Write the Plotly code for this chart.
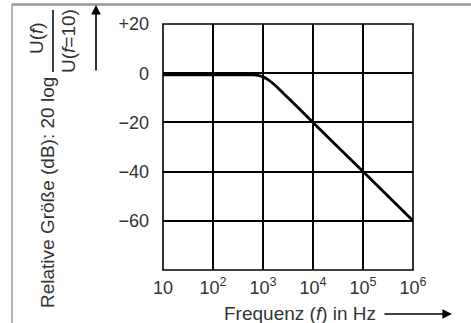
import plotly.graph_objects as go

# Data
freq_hz = [10, 100, 400, 631, 794, 1000, 1259, 1585, 1995, 2512, 3162, 10000, 100000, 1000000]
level_db = [-0.7, -0.7, -0.7, -0.72, -0.85, -1.5, -2.6, -4.2, -6.0, -8.0, -10.0, -20.0, -40.0, -60.0]

x_tickvals = [10, 100, 1000, 10000, 100000, 1000000]
x_ticktext = ["10", "10<sup>2</sup>", "10<sup>3</sup>", "10<sup>4</sup>", "10<sup>5</sup>", "10<sup>6</sup>"]
y_tickvals = [20, 0, -20, -40, -60, -80]
y_ticktext = ["+20", "0", "\u221220", "\u221240", "\u221260", ""]

W, H = 471, 323
L, R, T, B = 163, 413, 24, 270  # plot area in pixels


def px(xp):
    return (xp - L) / (R - L)


def py(yp):
    return (B - yp) / (B - T)


FONT = "Liberation Sans"
TXT = "#333333"
FS_TICK = 18
FS_LAB = 19

fig = go.Figure()
fig.add_trace(go.Scatter(
    x=freq_hz, y=level_db, mode="lines",
    line=dict(color="black", width=2.8, shape="spline", smoothing=0.4),
    hoverinfo="skip", showlegend=False,
))

fig.update_layout(
    width=W, height=H,
    margin=dict(l=L, r=W - R, t=T, b=H - B, pad=0),
    paper_bgcolor="white", plot_bgcolor="white",
    font=dict(family=FONT, size=FS_TICK, color=TXT),
    xaxis=dict(
        type="log", range=[1, 6], tickvals=x_tickvals, ticktext=x_ticktext,
        showgrid=True, gridcolor="black", gridwidth=1.6,
        showline=False, zeroline=False, ticks="", ticklabelstandoff=5,
        tickfont=dict(family=FONT, size=FS_TICK, color=TXT),
    ),
    yaxis=dict(
        range=[-80, 20], tickvals=y_tickvals, ticktext=y_ticktext,
        showgrid=True, gridcolor="black", gridwidth=1.6,
        showline=False, zeroline=False, ticks="", ticklabelstandoff=13,
        tickfont=dict(family=FONT, size=FS_TICK, color=TXT),
    ),
)

shapes = [
    # plot border
    dict(type="rect", xref="paper", yref="paper", x0=0, x1=1, y0=0, y1=1,
         line=dict(color="black", width=1.6)),
    # outer gray frame (top and left)
    dict(type="line", xref="paper", yref="paper", x0=px(12), x1=px(W + 5), y0=py(4.5), y1=py(4.5),
         line=dict(color="#999999", width=2.5)),
    dict(type="line", xref="paper", yref="paper", x0=px(12), x1=px(12), y0=py(4), y1=py(H + 5),
         line=dict(color="#999999", width=1.5)),
    # fraction bar of the y label
    dict(type="line", xref="paper", yref="paper", x0=px(53), x1=px(53), y0=py(10), y1=py(72),
         line=dict(color="black", width=1.5)),
]
fig.update_layout(shapes=shapes)

annotations = [
    dict(text="Relative Größe (dB): 20 log", textangle=-90, x=px(47), y=py(193),
         xref="paper", yref="paper", xanchor="center", yanchor="middle",
         showarrow=False, font=dict(family=FONT, size=FS_LAB, color=TXT)),
    dict(text="U(<i>f</i>)", textangle=-90, x=px(37), y=py(38),
         xref="paper", yref="paper", xanchor="center", yanchor="middle",
         showarrow=False, font=dict(family=FONT, size=FS_LAB, color=TXT)),
    dict(text="U(<i>f</i>=10)", textangle=-90, x=px(68), y=py(41),
         xref="paper", yref="paper", xanchor="center", yanchor="middle",
         showarrow=False, font=dict(family=FONT, size=FS_LAB, color=TXT)),
    dict(text="Frequenz (<i>f</i>) in Hz", x=px(300), y=py(313),
         xref="paper", yref="paper", xanchor="center", yanchor="middle",
         showarrow=False, font=dict(family=FONT, size=FS_LAB, color=TXT)),
    # y arrow
    dict(x=px(96), y=py(5), ax=0, ay=67, xref="paper", yref="paper",
         axref="pixel", ayref="pixel", showarrow=True, arrowhead=2, arrowsize=1.2,
         arrowwidth=1.6, arrowcolor="black", text=""),
    # x arrow
    dict(x=px(452), y=py(314), ax=-69, ay=0, xref="paper", yref="paper",
         axref="pixel", ayref="pixel", showarrow=True, arrowhead=2, arrowsize=1.2,
         arrowwidth=1.6, arrowcolor="black", text=""),
]
fig.update_layout(annotations=annotations)

fig.write_html(
    "out.html",
    config={"displayModeBar": False},
    post_script="document.body.style.margin='0px';document.body.style.overflow='hidden';",
)
